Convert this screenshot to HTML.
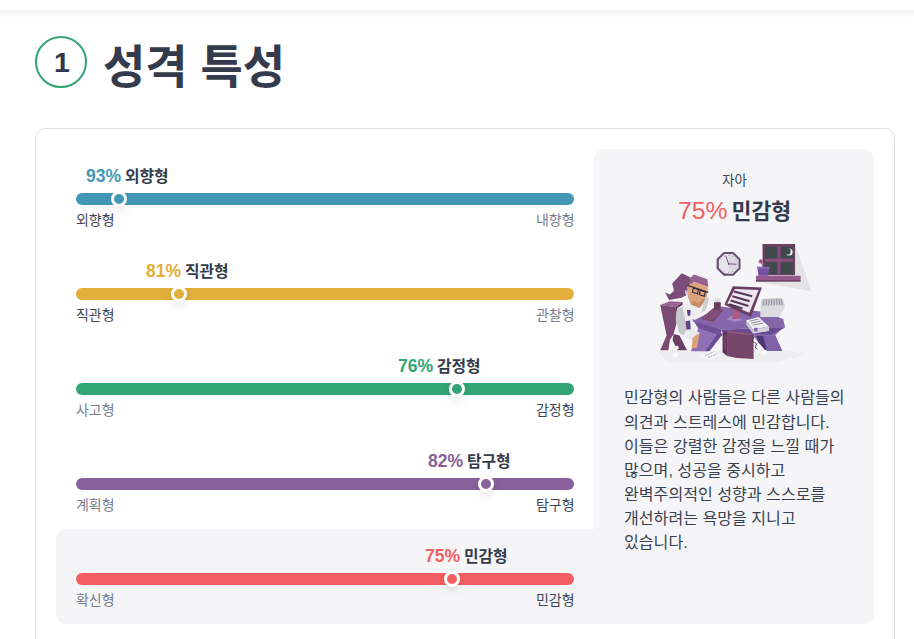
<!DOCTYPE html>
<html lang="ko"><head><meta charset="utf-8"><title>성격 특성</title><style>
html,body{margin:0;padding:0}
body{width:914px;height:639px;overflow:hidden;position:relative;background:#fff;font-family:"Liberation Sans",sans-serif}
.t{position:absolute;overflow:visible}
.t text{font-family:"Liberation Sans","Noto Sans CJK KR",sans-serif}
.topshadow{position:absolute;left:0;top:9px;width:914px;height:8px;background:linear-gradient(#fff 0,#f6f6f7 15%,#f1f1f2 32%,#f7f7f8 60%,#fff 100%)}
.num{position:absolute;left:35px;top:36px;width:48px;height:48px;border:2px solid #33a474;border-radius:50%}
.card{position:absolute;left:35px;top:128px;width:858px;height:560px;border:1px solid #dfe0e3;border-radius:10px;background:#fff}
.panel{position:absolute;left:594px;top:149px;width:280px;height:475px;border-radius:10px;background:#f5f5f7}
.hl{position:absolute;left:56px;top:529px;width:560px;height:95px;border-radius:10px;background:#f5f5f7}
.bar{position:absolute;left:76px;width:498px;height:12px;border-radius:6px}
.knob{position:absolute;width:10px;height:10px;border:3px solid #fff;border-radius:50%;box-shadow:0 4px 8px rgba(0,0,0,.09)}
.illus{position:absolute}
.sr{position:absolute;width:1px;height:1px;margin:-1px;padding:0;overflow:hidden;clip:rect(0 0 0 0);clip-path:inset(50%);white-space:nowrap;border:0;font-size:1px;color:transparent}
</style></head><body>
<div class="topshadow"></div>
<div class="num"></div>
<svg class="t" role="img" aria-label="1" style="left:53.78px;top:41.35px" width="15.05" height="42.75" viewBox="0 -31.35 15.05 42.75"><text x="0" y="0" font-size="28.5" font-weight="bold" fill="#2f384a">1</text></svg>
<svg class="t" role="img" aria-label="성격 특성" style="left:102.50px;top:32.40px" width="180.98" height="69.00" viewBox="0 -50.60 180.98 69.00"><text x="0" y="0" font-size="46" font-weight="bold" fill="#333b4c">성격 특성</text></svg>
<div class="card"></div>
<div class="panel"></div>
<div class="hl"></div>
<div class="bar" style="top:193px;background:#4298b4"></div>
<div class="knob" style="left:111.0px;top:191px;background:#4298b4"></div>
<svg class="t" role="img" aria-label="93% 외향형" style="left:85.80px;top:165.47px" width="82.63" height="23.77" viewBox="0 -17.44 82.63 23.77"><text x="0" y="0" font-size="17.6" font-weight="bold" fill="#4298b4">93%</text><text x="38.89" y="0" font-size="15.85" font-weight="bold" fill="#343c4b">외향형</text></svg>
<svg class="t" role="img" aria-label="외향형" style="left:76.00px;top:209.50px" width="38.64" height="21.00" viewBox="0 -15.40 38.64 21.00"><text x="0" y="0" font-size="14" fill="#3f4756">외향형</text></svg>
<svg class="t" role="img" aria-label="내향형" style="left:535.86px;top:209.50px" width="38.64" height="21.00" viewBox="0 -15.40 38.64 21.00"><text x="0" y="0" font-size="14" fill="#777d89">내향형</text></svg>
<div class="bar" style="top:288px;background:#e4ae3a"></div>
<div class="knob" style="left:171.0px;top:286px;background:#e4ae3a"></div>
<svg class="t" role="img" aria-label="81% 직관형" style="left:145.60px;top:260.46px" width="82.63" height="23.77" viewBox="0 -17.44 82.63 23.77"><text x="0" y="0" font-size="17.6" font-weight="bold" fill="#e4ae3a">81%</text><text x="38.89" y="0" font-size="15.85" font-weight="bold" fill="#343c4b">직관형</text></svg>
<svg class="t" role="img" aria-label="직관형" style="left:76.00px;top:304.50px" width="38.64" height="21.00" viewBox="0 -15.40 38.64 21.00"><text x="0" y="0" font-size="14" fill="#3f4756">직관형</text></svg>
<svg class="t" role="img" aria-label="관찰형" style="left:535.86px;top:304.50px" width="38.64" height="21.00" viewBox="0 -15.40 38.64 21.00"><text x="0" y="0" font-size="14" fill="#777d89">관찰형</text></svg>
<div class="bar" style="top:383px;background:#33a474"></div>
<div class="knob" style="left:448.8px;top:381px;background:#33a474"></div>
<svg class="t" role="img" aria-label="76% 감정형" style="left:398.10px;top:355.46px" width="82.63" height="23.77" viewBox="0 -17.44 82.63 23.77"><text x="0" y="0" font-size="17.6" font-weight="bold" fill="#33a474">76%</text><text x="38.89" y="0" font-size="15.85" font-weight="bold" fill="#343c4b">감정형</text></svg>
<svg class="t" role="img" aria-label="사고형" style="left:76.00px;top:399.50px" width="38.64" height="21.00" viewBox="0 -15.40 38.64 21.00"><text x="0" y="0" font-size="14" fill="#777d89">사고형</text></svg>
<svg class="t" role="img" aria-label="감정형" style="left:535.86px;top:399.50px" width="38.64" height="21.00" viewBox="0 -15.40 38.64 21.00"><text x="0" y="0" font-size="14" fill="#3f4756">감정형</text></svg>
<div class="bar" style="top:478px;background:#88619a"></div>
<div class="knob" style="left:477.8px;top:476px;background:#88619a"></div>
<svg class="t" role="img" aria-label="82% 탐구형" style="left:427.50px;top:450.46px" width="82.63" height="23.77" viewBox="0 -17.44 82.63 23.77"><text x="0" y="0" font-size="17.6" font-weight="bold" fill="#88619a">82%</text><text x="38.89" y="0" font-size="15.85" font-weight="bold" fill="#343c4b">탐구형</text></svg>
<svg class="t" role="img" aria-label="계획형" style="left:76.00px;top:494.50px" width="38.64" height="21.00" viewBox="0 -15.40 38.64 21.00"><text x="0" y="0" font-size="14" fill="#777d89">계획형</text></svg>
<svg class="t" role="img" aria-label="탐구형" style="left:535.86px;top:494.50px" width="38.64" height="21.00" viewBox="0 -15.40 38.64 21.00"><text x="0" y="0" font-size="14" fill="#3f4756">탐구형</text></svg>
<div class="bar" style="top:573px;background:#f25e62"></div>
<div class="knob" style="left:444.0px;top:571px;background:#f25e62"></div>
<svg class="t" role="img" aria-label="75% 민감형" style="left:425.10px;top:545.46px" width="82.63" height="23.77" viewBox="0 -17.44 82.63 23.77"><text x="0" y="0" font-size="17.6" font-weight="bold" fill="#f25e62">75%</text><text x="38.89" y="0" font-size="15.85" font-weight="bold" fill="#343c4b">민감형</text></svg>
<svg class="t" role="img" aria-label="확신형" style="left:76.00px;top:589.50px" width="38.64" height="21.00" viewBox="0 -15.40 38.64 21.00"><text x="0" y="0" font-size="14" fill="#777d89">확신형</text></svg>
<svg class="t" role="img" aria-label="민감형" style="left:535.86px;top:589.50px" width="38.64" height="21.00" viewBox="0 -15.40 38.64 21.00"><text x="0" y="0" font-size="14" fill="#3f4756">민감형</text></svg>
<svg class="t" role="img" aria-label="자아" style="left:721.58px;top:169.75px" width="24.84" height="20.25" viewBox="0 -14.85 24.84 20.25"><text x="0" y="0" font-size="13.5" fill="#3f4756">자아</text></svg>
<svg class="t" role="img" aria-label="75% 민감형" style="left:677.92px;top:194.83px" width="113.35" height="32.55" viewBox="0 -23.87 113.35 32.55"><text x="0" y="0" font-size="24.8" font-weight="500" fill="#f25e62">75%</text><text x="53.46" y="0" font-size="21.7" font-weight="bold" fill="#343c4b">민감형</text></svg>
<svg class="t" role="img" aria-label="민감형의 사람들은 다른 사람들의" style="left:624.00px;top:385.39px" width="217.93" height="24.15" viewBox="0 -17.71 217.93 24.15"><text x="0" y="0" font-size="16.1" fill="#3a4251">민감형의 사람들은 다른 사람들의</text></svg>
<svg class="t" role="img" aria-label="의견과 스트레스에 민감합니다." style="left:624.00px;top:409.57px" width="203.60" height="24.15" viewBox="0 -17.71 203.60 24.15"><text x="0" y="0" font-size="16.1" fill="#3a4251">의견과 스트레스에 민감합니다.</text></svg>
<svg class="t" role="img" aria-label="이들은 강렬한 감정을 느낄 때가" style="left:624.00px;top:433.75px" width="206.64" height="24.15" viewBox="0 -17.71 206.64 24.15"><text x="0" y="0" font-size="16.1" fill="#3a4251">이들은 강렬한 감정을 느낄 때가</text></svg>
<svg class="t" role="img" aria-label="많으며, 성공을 중시하고" style="left:624.00px;top:457.93px" width="159.17" height="24.15" viewBox="0 -17.71 159.17 24.15"><text x="0" y="0" font-size="16.1" fill="#3a4251">많으며, 성공을 중시하고</text></svg>
<svg class="t" role="img" aria-label="완벽주의적인 성향과 스스로를" style="left:624.00px;top:482.11px" width="199.60" height="24.15" viewBox="0 -17.71 199.60 24.15"><text x="0" y="0" font-size="16.1" fill="#3a4251">완벽주의적인 성향과 스스로를</text></svg>
<svg class="t" role="img" aria-label="개선하려는 욕망을 지니고" style="left:624.00px;top:506.29px" width="169.97" height="24.15" viewBox="0 -17.71 169.97 24.15"><text x="0" y="0" font-size="16.1" fill="#3a4251">개선하려는 욕망을 지니고</text></svg>
<svg class="t" role="img" aria-label="있습니다." style="left:624.00px;top:530.47px" width="63.26" height="24.15" viewBox="0 -17.71 63.26 24.15"><text x="0" y="0" font-size="16.1" fill="#3a4251">있습니다.</text></svg>
<svg class="illus" style="left:650px;top:235px" width="170" height="135" viewBox="650 235 170 135" role="img" aria-label="민감형 일러스트"><title>민감형</title>
<polygon points="656.34,351.16 785.16,350.73 805.23,353.27 797.84,356.44 776.72,362.56 669.01,362.56" fill="#eeeef1"/>
<polygon points="795.06,244.51 811.57,291.55 801.06,289.25 757.02,282.04 800.66,281.64 800.66,275.64 795.06,275.64" fill="#e3e3e7"/>
<polygon points="762.53,244.01 795.06,244.01 795.06,275.24 762.53,275.24" fill="#6a3f62"/>
<polygon points="765.03,247.01 777.24,247.01 777.24,258.72 765.03,258.72" fill="#3e4a4c"/>
<polygon points="780.64,247.01 792.66,247.01 792.66,258.72 780.64,258.72" fill="#3e4a4c"/>
<polygon points="765.03,261.82 777.24,261.82 777.24,274.04 765.03,274.04" fill="#3e4a4c"/>
<polygon points="780.64,261.82 792.66,261.82 792.66,274.04 780.64,274.04" fill="#3e4a4c"/>
<polygon points="777.24,247.01 780.64,247.01 780.64,274.04 777.24,274.04" fill="#83497a"/>
<polygon points="765.03,258.72 792.66,258.72 792.66,261.82 765.03,261.82" fill="#8b4d7c"/>
<circle cx="789.05" cy="252.01" r="3.60" fill="#f3f1f5"/>
<circle cx="787.35" cy="251.41" r="3.30" fill="#3e4a4c"/>
<polygon points="756.02,275.64 800.66,275.64 800.66,280.44 756.02,280.44" fill="#93598a"/>
<polygon points="756.02,280.04 800.66,280.04 800.66,281.84 756.02,281.84" fill="#6f4267"/>
<polyline points="761.32,263.03 763.23,267.23" fill="none" stroke="#7d6a86" stroke-width="0.8"/>
<circle cx="760.82" cy="261.42" r="2.20" fill="#b5668f"/>
<circle cx="760.82" cy="261.42" r="0.80" fill="#7d3d66"/>
<polygon points="757.52,268.03 769.23,268.03 768.23,275.64 758.42,275.64" fill="#7650a0"/>
<polygon points="756.82,266.63 769.83,266.63 769.83,268.63 756.82,268.63" fill="#8c68b4"/>
<polygon points="740.49,268.76 733.51,275.74 723.64,275.74 716.66,268.76 716.66,258.89 723.64,251.91 733.51,251.91 740.49,258.89" fill="#6a4a70"/>
<polygon points="738.37,267.88 732.63,273.62 724.52,273.62 718.78,267.88 718.78,259.77 724.52,254.03 732.63,254.03 738.37,259.77" fill="#e9e5ec"/>
<polygon points="728.58,254.03 732.63,254.03 738.37,259.77 738.37,267.88 732.63,273.62 728.58,273.62" fill="#dcd6e2"/>
<path d="M728.58 263.83 l-2.8 -8 M728.58 263.83 l7.5 0.4" stroke="#6a4a70" stroke-width="0.9" stroke-linecap="round" fill="none"/>
<circle cx="728.58" cy="263.83" r="0.9" fill="#6a4a70"/>
<circle cx="737.18" cy="263.83" r="0.45" fill="#8a7590"/>
<circle cx="736.02" cy="268.13" r="0.45" fill="#8a7590"/>
<circle cx="732.88" cy="271.27" r="0.45" fill="#8a7590"/>
<circle cx="728.58" cy="272.43" r="0.45" fill="#8a7590"/>
<circle cx="724.28" cy="271.27" r="0.45" fill="#8a7590"/>
<circle cx="721.13" cy="268.13" r="0.45" fill="#8a7590"/>
<circle cx="719.98" cy="263.83" r="0.45" fill="#8a7590"/>
<circle cx="721.13" cy="259.53" r="0.45" fill="#8a7590"/>
<circle cx="724.28" cy="256.38" r="0.45" fill="#8a7590"/>
<circle cx="728.58" cy="255.23" r="0.45" fill="#8a7590"/>
<circle cx="732.88" cy="256.38" r="0.45" fill="#8a7590"/>
<circle cx="736.02" cy="259.53" r="0.45" fill="#8a7590"/>
<polygon points="660.21,304.97 669.88,301.25 682.53,301.99 675.83,307.20" fill="#9a6492"/>
<polygon points="675.83,307.20 682.53,301.99 683.57,319.11 678.81,328.78" fill="#5d3556"/>
<polygon points="660.21,304.97 675.83,307.20 677.62,319.11 673.60,333.99 669.88,339.94 668.39,350.36 660.21,350.36 666.61,335.48" fill="#7b4a72"/>
<polygon points="673.60,333.99 679.55,335.48 686.99,350.36 677.32,350.36 672.56,339.94" fill="#6b3f64"/>
<polygon points="665.12,292.62 669.88,294.40 675.09,289.64 681.49,297.68 669.14,300.06" fill="#7a4a78"/>
<polygon points="672.11,283.39 681.79,273.27 690.71,277.44 688.93,286.37 685.95,295.60 680.60,297.98 674.05,290.54" fill="#7d4d7b"/>
<polygon points="690.71,277.44 693.99,274.46 707.38,279.23 708.27,287.11 693.99,281.90 688.48,286.37" fill="#93628f"/>
<polygon points="677.32,307.95 684.76,303.48 692.20,304.97 698.15,308.99 702.92,312.86 698.15,316.43 692.50,319.11 695.48,329.52 689.52,339.94 678.81,332.50 675.83,319.11" fill="#eeeef1"/>
<polygon points="675.83,319.11 677.32,307.95 682.68,307.20 684.76,319.11 687.14,328.93 683.27,335.48 678.81,332.50" fill="#c6c6cc"/>
<polygon points="686.85,309.88 690.71,309.88 690.12,315.83 687.74,315.83" fill="#5a3f8a"/>
<polygon points="685.51,321.34 690.12,320.60 690.71,329.23 686.55,329.82" fill="#5f4488"/>
<polygon points="686.99,286.37 693.99,281.90 708.27,287.11 706.49,298.57 699.64,308.10 690.71,304.52 687.74,296.79" fill="#dba47c"/>
<polygon points="690.71,304.52 699.64,308.10 706.49,298.57 702.32,299.17 698.15,303.48 693.10,300.51" fill="#c58c68"/>
<polygon points="705.60,296.49 709.17,298.57 705.89,310.48 701.13,312.56 703.36,304.23" fill="#cdd0cf"/>
<polyline points="686.55,285.18 708.27,292.32" fill="none" stroke="#3a2f45" stroke-width="1.3"/>
<g fill="none" stroke="#2e2838" stroke-width="1.1">
<polygon points="693.39,287.86 698.45,289.49 697.56,293.81 692.50,292.17" fill="none"/>
<polygon points="700.24,290.24 705.30,291.88 704.40,296.19 699.35,294.55" fill="none"/>
</g>
<polygon points="685.21,290.54 686.55,290.54 686.70,294.11 685.51,294.11" fill="#f7f5f8"/>
<polygon points="699.05,325.06 718.10,332.20 704.70,351.25 691.01,351.25" fill="#8f70b5"/>
<polygon points="704.70,351.25 718.10,332.20 722.86,333.99 709.46,351.25" fill="#6a4a95"/>
<polygon points="762.03,317.02 778.04,317.02 783.65,327.03 775.24,335.23 782.25,351.05 767.03,351.05 758.52,342.04 752.02,335.03" fill="#8f70b5"/>
<polygon points="756.02,335.83 763.23,335.83 767.23,349.05 765.23,350.25 758.22,342.24" fill="#4f3474"/>
<polygon points="763.23,335.83 775.24,335.83 782.25,351.05 767.03,351.05" fill="#8061a8"/>
<polygon points="690.12,328.93 699.64,332.50 697.86,337.71 692.20,339.94 688.93,339.94" fill="#e9e9ed"/>
<polygon points="692.50,337.71 699.64,332.80 696.96,347.68 691.61,348.27" fill="#dba47c"/>
<polygon points="720.75,329.61 785.16,327.50 771.65,334.68 722.86,333.84" fill="#6a4a95"/>
<polygon points="692.20,319.11 720.77,328.93 721.37,335.77 698.15,328.04" fill="#6f4f98"/>
<polygon points="692.24,321.17 720.96,306.38 764.04,312.09 783.05,319.05 785.16,327.50 720.75,329.61" fill="#8566ab"/>
<polygon points="700.69,318.63 713.36,308.07 723.07,310.18 713.36,322.01" fill="#7a4870"/>
<polyline points="704.49,317.79 714.63,310.18" fill="none" stroke="#a06a94" stroke-width="1.0" stroke-dasharray="1.2 1"/>
<polyline points="707.02,319.05 717.16,311.03" fill="none" stroke="#a06a94" stroke-width="1.0" stroke-dasharray="1.2 1"/>
<polyline points="709.98,319.90 719.69,311.87" fill="none" stroke="#a06a94" stroke-width="1.0" stroke-dasharray="1.2 1"/>
<polyline points="715.68,298.36 716.53,302.58" fill="none" stroke="#b3a6bd" stroke-width="0.6"/>
<polyline points="718.00,297.72 718.00,302.58" fill="none" stroke="#b3a6bd" stroke-width="0.6"/>
<polyline points="720.12,298.57 719.27,302.58" fill="none" stroke="#b3a6bd" stroke-width="0.6"/>
<polygon points="713.99,302.16 720.75,302.16 720.75,309.34 713.99,309.34" fill="#6a3d5e"/>
<polygon points="760.88,299.41 782.00,297.94 785.59,305.75 779.25,316.94 760.24,316.94" fill="#dddce1"/>
<polygon points="761.93,298.99 781.36,297.72 784.32,304.69 761.51,305.96" fill="#cfced4"/>
<polyline points="764.04,299.20 763.62,305.33" fill="none" stroke="#7f7c86" stroke-width="0.8"/>
<polyline points="766.58,299.20 766.16,305.33" fill="none" stroke="#7f7c86" stroke-width="0.8"/>
<polyline points="769.11,299.20 768.69,305.33" fill="none" stroke="#7f7c86" stroke-width="0.8"/>
<polyline points="771.65,299.20 771.44,305.33" fill="none" stroke="#7f7c86" stroke-width="0.8"/>
<polyline points="774.18,299.20 774.18,305.33" fill="none" stroke="#7f7c86" stroke-width="0.8"/>
<polyline points="776.72,299.20 776.93,305.33" fill="none" stroke="#7f7c86" stroke-width="0.8"/>
<polyline points="779.25,299.20 779.67,305.33" fill="none" stroke="#7f7c86" stroke-width="0.8"/>
<polyline points="781.36,299.20 782.21,305.33" fill="none" stroke="#7f7c86" stroke-width="0.8"/>
<polygon points="726.03,319.05 734.05,314.83 742.93,320.32 734.48,322.01" fill="#a488c6"/>
<polygon points="733.63,309.34 738.70,311.03 739.55,318.63 731.94,319.05" fill="#b05a80"/>
<polygon points="732.79,286.32 761.93,287.38 750.95,316.94 724.34,304.69" fill="#6a3f62"/>
<polygon points="734.90,289.07 758.55,290.12 749.26,312.72 727.30,303.43" fill="#ece6f0"/>
<polyline points="734.05,291.60 752.22,296.25" fill="none" stroke="#5a3558" stroke-width="2.1"/>
<polyline points="732.37,296.25 749.68,301.31" fill="none" stroke="#5a3558" stroke-width="2.1"/>
<polyline points="730.68,300.47 748.42,305.96" fill="none" stroke="#5a3558" stroke-width="2.1"/>
<polyline points="729.20,304.27 742.50,308.50" fill="none" stroke="#5a3558" stroke-width="2.1"/>
<polygon points="746.01,320.52 758.52,317.02 769.03,326.52 753.02,329.53" fill="#f0eef3"/>
<polygon points="753.02,329.53 769.03,326.52 769.03,331.03 753.02,333.63" fill="#d5d3da"/>
<polygon points="746.01,320.52 753.02,329.53 753.02,333.63 746.21,324.52" fill="#c6c4cc"/>
<polyline points="749.51,321.22 758.52,319.02" fill="none" stroke="#77747e" stroke-width="0.8"/>
<polyline points="751.21,323.22 760.82,321.02" fill="none" stroke="#77747e" stroke-width="0.8"/>
<polyline points="752.82,325.22 763.23,323.02" fill="none" stroke="#77747e" stroke-width="0.8"/>
<polygon points="754.22,327.83 757.42,327.83 757.42,331.43 754.22,331.43" fill="#7a5aa0"/>
<polygon points="727.08,331.03 737.09,332.03 753.60,333.83 753.60,359.06 737.09,358.06 727.08,356.05" fill="#75466a"/>
<polygon points="722.57,333.23 727.08,331.03 727.08,356.05 722.57,352.25" fill="#5d3556"/>
<polygon points="727.08,331.03 737.09,331.83 753.60,333.63 750.60,335.23 727.28,332.63" fill="#8f587f"/>
<polyline points="724.27,335.03 724.27,349.05" fill="none" stroke="#7a4a70" stroke-width="0.8"/>
<polyline points="725.57,334.53 725.57,349.85" fill="none" stroke="#7a4a70" stroke-width="0.8"/>
<path d="M752.02 336.03 q3 1.2 0.8 3.4 q-2 2.2 1.7 3 q3.4 0.8 1.3 3.4 q-1.7 2.2 1.7 3.4" stroke="#4a3a4c" stroke-width="0.9" fill="none"/>
<polygon points="699.84,355.80 711.67,350.31 721.81,354.54 709.98,360.45" fill="#f4f4f7"/>
<polyline points="705.33,355.38 713.36,352.00" fill="none" stroke="#8f8d98" stroke-width="0.9" stroke-dasharray="1.6 1"/>
<polyline points="708.29,357.49 716.74,353.90" fill="none" stroke="#8f8d98" stroke-width="0.9" stroke-dasharray="1.6 1"/>
<polygon points="673.22,353.05 677.53,352.25 678.23,356.05 674.82,357.66 672.82,355.55" fill="#fbfbfc"/>
<polygon points="675.22,346.04 678.23,345.64 678.83,349.05 675.82,349.65" fill="#f4f4f7"/>
<polygon points="762.03,351.55 766.03,350.85 767.03,354.05 763.83,355.45 761.62,353.65" fill="#fbfbfc"/>
</svg>
</body></html>
